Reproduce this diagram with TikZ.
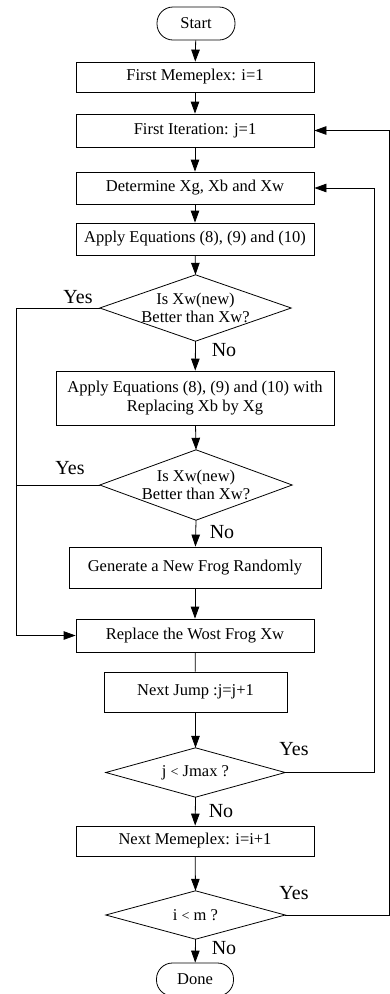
\documentclass[tikz,border=0pt]{standalone}
\usepackage{fontspec}
\setmainfont{Liberation Serif}
\usetikzlibrary{arrows.meta}
\begin{document}
\begin{tikzpicture}[x=1pt,y=-1pt,
  every node/.style={font=\fontsize{16.5}{18.5}\selectfont, inner sep=0pt, align=center},
  box/.style={draw, line width=0.8pt, minimum height=#1},
  box/.default=33pt,
  term/.style={draw, line width=0.8pt, rounded corners=16pt, minimum width=78pt, minimum height=33pt},
  dec/.style={minimum width=#1},
  lbl/.style={font=\fontsize{20}{22}\selectfont},
  flow/.style={line width=0.8pt, -{Triangle[length=12pt,width=8.5pt]}},
  ln/.style={line width=0.8pt}
]
\useasboundingbox (0,0) rectangle (390,994);

\node[term] (start) at (196,23.5) {Start};
\node[box=30pt, minimum width=238pt] (b1) at (195,77) {First Memeplex: i=1};
\node[box=33pt, minimum width=238pt] (b2) at (195,130.5) {First Iteration: j=1};
\node[box=32pt, minimum width=238pt] (b3) at (195,188) {Determine Xg, Xb and Xw};
\node[box=32pt, minimum width=238pt] (b4) at (195,239) {Apply Equations (8), (9) and (10)};
\node[minimum width=191pt, minimum height=66pt] (d1) at (195.5,308) {Is Xw(new)\\Better than Xw?};
\node[box=54pt, minimum width=278pt] (b5) at (195,398) {Apply Equations (8), (9) and (10) with\\Replacing Xb by Xg};
\node[minimum width=192pt, minimum height=70pt] (d2) at (196,485) {Is Xw(new)\\Better than Xw?};
\node[box=41pt, minimum width=252pt] (b6) at (195,567.5) {Generate a New Frog Randomly};
\node[box=33pt, minimum width=238pt] (b7) at (195,635.5) {Replace the Wost Frog Xw};
\node[box=40pt, minimum width=183pt] (b8) at (195.5,692) {Next Jump :j=j+1};
\node[minimum width=179pt, minimum height=49pt] (d3) at (195.5,772.5) {j {\fontsize{14}{16}\selectfont<} Jmax ?};
\node[box=30pt, minimum width=238pt] (b9) at (195,841) {Next Memeplex: i=i+1};
\node[minimum width=179pt, minimum height=48pt] (d4) at (195.5,915) {i {\fontsize{14}{16}\selectfont<} m ?};
\node[term, minimum width=77pt] (done) at (195,979.5) {Done};

\foreach \d in {d1,d2,d3,d4}
  \draw[ln] (\d.north) -- (\d.east) -- (\d.south) -- (\d.west) -- cycle;

% labels
\node[lbl] (y1) at (78,297) {Yes};
\node[lbl] (n1) at (224,350) {No};
\node[lbl] (y2) at (70,468) {Yes};
\node[lbl] (n2) at (222,532) {No};
\node[lbl] (y3) at (294,749) {Yes};
\node[lbl] (n3) at (221,811) {No};
\node[lbl] (y4) at (294,893) {Yes};
\node[lbl] (n4) at (224,948) {No};

% main flow
\draw[flow] (start) -- (b1);
\draw[flow] (b1) -- (b2);
\draw[flow] (b2) -- (b3);
\draw[flow] (b3) -- (b4);
\draw[flow] (b4) -- (d1.north);
\draw[flow] (d1.south) -- (b5);
\draw[flow] (b5) -- (d2.north);
\draw[flow] (d2.south) -- (b6);
\draw[flow] (b6) -- (b7);
\draw[ln] (b7) -- (b8);
\draw[flow] (b8) -- (d3.north);
\draw[flow] (d3.south) -- (b9);
\draw[flow] (b9) -- (d4.north);
\draw[flow] (d4.south) -- (done);

% yes branches
\coordinate (L1) at (16,308);
\coordinate (L2) at (16,635.5);
\draw[ln] (d1.west) -- (L1) -- (L2);
\draw[flow] (L2) -- (b7.west);
\coordinate (L3) at (16,485);
\draw[ln] (d2.west) -- (L3);

\coordinate (R1) at (374,772.5);
\coordinate (R2) at (374,188);
\draw[flow] (d3.east) -- (R1) -- (R2) -- (b3.east);

\coordinate (R3) at (389.5,915);
\coordinate (R4) at (389.5,130.5);
\draw[flow] (d4.east) -- (R3) -- (R4) -- (b2.east);
\end{tikzpicture}
\end{document}
